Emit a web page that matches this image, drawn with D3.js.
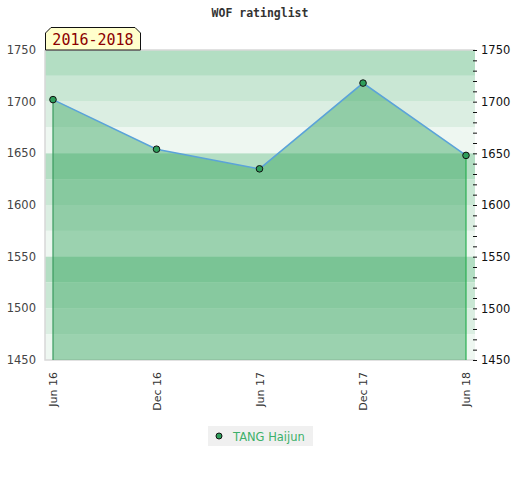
<!DOCTYPE html>
<html>
<head>
<meta charset="utf-8">
<script src="https://cdn.jsdelivr.net/npm/d3@7"></script>
<style>
  body { margin: 0; background: #fff; font-family: "DejaVu Sans", sans-serif; }
</style>
</head>
<body>
<div id="vis"></div>
<script>
// chart data
const dates = ["2016-06-01", "2016-12-01", "2017-06-01", "2017-12-01", "2018-06-01"];
const tickLabels = ["Jun 16", "Dec 16", "Jun 17", "Dec 17", "Jun 18"];
const ratings = [1702, 1654, 1635, 1718, 1648];
const playerName = "TANG Haijun";
const periodLabel = "2016-2018";
const chartTitle = "WOF ratinglist";
const yTicks = [1450, 1500, 1550, 1600, 1650, 1700, 1750];
const bandColors = ["#b3dec3", "#c9e7d4", "#dbeee2", "#eef7f1"];

const w = 520, h = 480;
const margin = {top: 50, right: 45, bottom: 120, left: 45};
const width = w - margin.left - margin.right;
const height = h - margin.top - margin.bottom;

const parse = d3.timeParse("%Y-%m-%d");
const points = dates.map((d, i) => ({date: parse(d), value: ratings[i], label: tickLabels[i]}));

const x = d3.scaleTime()
  .domain(d3.extent(points, d => d.date))
  .range([8, width - 9]);
const y = d3.scaleLinear().domain([1450, 1750]).range([height, 0]);

const svg = d3.select("#vis").append("svg")
  .attr("width", w)
  .attr("height", h);

svg.append("text")
  .attr("x", w / 2).attr("y", 17)
  .attr("text-anchor", "middle")
  .style("font-family", "'DejaVu Sans Mono', monospace")
  .style("font-weight", "bold")
  .style("font-size", "11.5px")
  .attr("fill", "#333")
  .text(chartTitle);

const g = svg.append("g").attr("transform", `translate(${margin.left},${margin.top})`);

// horizontal bands every 25 points
const bands = d3.range(1750, 1450, -25);
g.selectAll(".band").data(bands).enter().append("rect")
  .attr("class", "band")
  .attr("x", 0)
  .attr("y", d => y(d))
  .attr("width", width)
  .attr("height", d => y(d - 25) - y(d))
  .attr("fill", (d, i) => bandColors[i % 4]);

// plot border
g.append("path")
  .attr("d", `M0,0H${width}M0,0V${height}H${width}`)
  .attr("fill", "none")
  .attr("stroke", "#d8d8d8")
  .attr("stroke-width", 1.5);

// area under the line
const area = d3.area()
  .x(d => x(d.date))
  .y0(height)
  .y1(d => y(d.value));
g.append("path")
  .datum(points)
  .attr("d", area)
  .attr("fill", "#32a35a")
  .attr("fill-opacity", 0.44);

// vertical edges of the area
const ends = [points[0], points[points.length - 1]];
g.selectAll(".edge").data(ends).enter().append("line")
  .attr("x1", d => x(d.date)).attr("x2", d => x(d.date))
  .attr("y1", d => y(d.value)).attr("y2", height)
  .attr("stroke", (d, i) => i === 0 ? "#3a9a5e" : "#2bb052")
  .attr("stroke-width", 1.2);

const line = d3.line()
  .x(d => x(d.date))
  .y(d => y(d.value));
g.append("path")
  .datum(points)
  .attr("d", line)
  .attr("fill", "none")
  .attr("stroke", "#5ba3d9")
  .attr("stroke-width", 1.5);

g.selectAll(".dot").data(points).enter().append("circle")
  .attr("cx", d => x(d.date))
  .attr("cy", d => y(d.value))
  .attr("r", 3.3)
  .attr("fill", "#2e9e5b")
  .attr("stroke", "#111")
  .attr("stroke-width", 1);

// left axis labels
g.selectAll(".ylab").data(yTicks).enter().append("text")
  .attr("x", -9)
  .attr("y", d => y(d) + 4)
  .attr("text-anchor", "end")
  .style("font-size", "11.5px")
  .attr("fill", "#444")
  .text(d => d);

// right axis with minor ticks every 10
const rightAxis = d3.axisRight(y)
  .tickValues(d3.range(1450, 1751, 10))
  .tickSize(4)
  .tickFormat(d => yTicks.includes(d) ? d : "");
const ra = g.append("g")
  .attr("transform", `translate(${width - 2},0)`)
  .call(rightAxis);
ra.select(".domain").remove();
ra.selectAll(".tick line").attr("stroke", "#111");
ra.selectAll(".tick text")
  .attr("x", 8)
  .style("font-size", "11.5px")
  .style("font-family", "'DejaVu Sans', sans-serif")
  .attr("fill", "#111");

// x labels rotated
g.selectAll(".xlab").data(points).enter().append("text")
  .attr("transform", d => `translate(${x(d.date) + 4},${height + 12}) rotate(-90)`)
  .attr("text-anchor", "end")
  .style("font-size", "11px")
  .attr("fill", "#333")
  .text(d => d.label);

// period tag
const tag = svg.append("g").attr("transform", `translate(${margin.left},27)`);
tag.append("path")
  .attr("d", "M0.5,23V6L6,0.5H90L95.5,6V23Z")
  .attr("fill", "#ffffcc")
  .attr("stroke", "#111")
  .attr("stroke-width", 1);
tag.append("text")
  .attr("x", 48).attr("y", 18)
  .attr("text-anchor", "middle")
  .style("font-family", "'DejaVu Sans Mono', monospace")
  .style("font-size", "15px")
  .attr("fill", "#8b0000")
  .text(periodLabel);

// legend
const lg = svg.append("g").attr("transform", "translate(208,426)");
lg.append("rect")
  .attr("width", 105).attr("height", 20)
  .attr("fill", "#f0f0f0");
lg.append("circle")
  .attr("cx", 11).attr("cy", 10).attr("r", 3)
  .attr("fill", "#2e9e5b").attr("stroke", "#111");
lg.append("text")
  .attr("x", 25).attr("y", 14.5)
  .style("font-size", "11.5px")
  .attr("fill", "#3cb06a")
  .text(playerName);
</script>
</body>
</html>
